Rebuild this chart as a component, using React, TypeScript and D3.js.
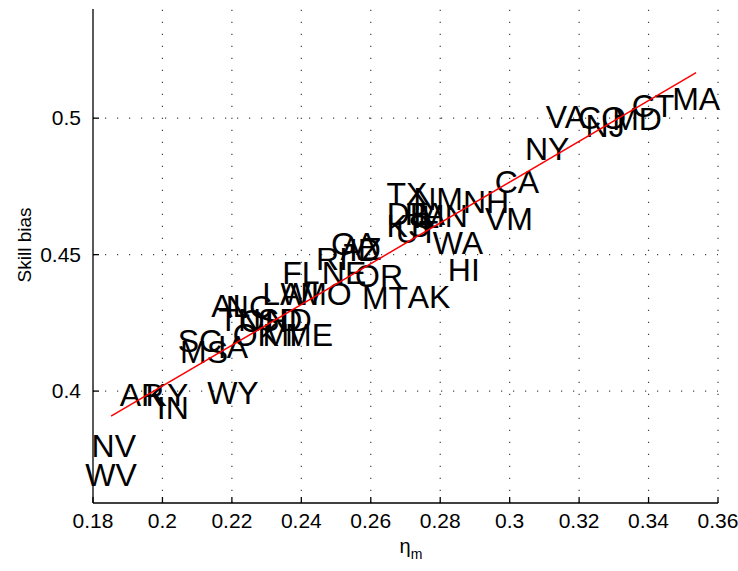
import React from "react";
import { scaleLinear, range, line } from "d3";

// state labels (text centred on the point)
const states = [
  "MA", "CT", "VA", "CO", "NJ", "MD", "NY", "CA", "NH", "VM",
  "TX", "NM", "DE", "PA", "MN", "IL", "KS", "UT", "WA", "HI",
  "AK", "MT", "OR", "GA", "AZ", "ID", "RI", "NE", "FL", "MO",
  "LA", "WI", "AL", "NC", "TN", "OH", "SD", "ND", "OK", "MI",
  "ME", "IA", "SC", "MS", "AR", "KY", "IN", "WY", "NV", "WV",
];
const eta = [
  0.3537, 0.3413, 0.3162, 0.3266, 0.3275, 0.3367, 0.3108, 0.3021, 0.2932, 0.2998,
  0.2704, 0.2794, 0.271, 0.2756, 0.2808, 0.2759, 0.2707, 0.2733, 0.2851, 0.2868,
  0.2768, 0.2641, 0.2624, 0.2552, 0.2572, 0.2583, 0.2488, 0.2523, 0.2399, 0.2471,
  0.2344, 0.2396, 0.2197, 0.2249, 0.2223, 0.2292, 0.2339, 0.2364, 0.2269, 0.2339,
  0.2422, 0.2203, 0.2108, 0.212, 0.1941, 0.2013, 0.203, 0.2203, 0.186, 0.1852,
];
const skillBias = [
  0.5073, 0.5048, 0.5007, 0.5004, 0.4974, 0.5, 0.489, 0.4769, 0.4696, 0.4634,
  0.4725, 0.4707, 0.4652, 0.4649, 0.4645, 0.4638, 0.4605, 0.4583, 0.4543, 0.4447,
  0.4345, 0.4341, 0.4422, 0.4539, 0.4524, 0.4517, 0.4484, 0.4433, 0.4433, 0.4356,
  0.4359, 0.4359, 0.4312, 0.4308, 0.4264, 0.4257, 0.4264, 0.4264, 0.4209, 0.4209,
  0.4209, 0.4162, 0.4184, 0.4144, 0.3986, 0.3986, 0.3939, 0.3993, 0.38, 0.3693,
];

// fitted line end points
const fitX = [0.1852, 0.3537];
const fitY = [0.3908, 0.5167];

const xTicks = range(0, 10).map((i) => +(0.18 + i * 0.02).toFixed(2));
const yTicks = [0.4, 0.45, 0.5];

const W = 738;
const H = 571;
const font = "'Liberation Sans', Arial, Helvetica, sans-serif";

export default function App() {
  const x = scaleLinear().domain([0.18, 0.36]).range([93, 718]);
  const y = scaleLinear().domain([0.359, 0.54]).range([503, 9]);
  const [x0, x1] = x.range();
  const [y0, y1] = y.range();

  const fit = line<number>()
    .x((d) => x(d))
    .y((_, i) => y(fitY[i]));

  const labelSize = 32;

  return (
    <svg
      width={W}
      height={H}
      style={{ position: "fixed", left: 0, top: 0, background: "#fff" }}
      fontFamily={font}
    >
      {/* grid */}
      <g stroke="#444" strokeWidth={1.2} strokeDasharray="1.2,10.8">
        {xTicks.slice(1).map((t) => (
          <line key={"gx" + t} x1={x(t)} x2={x(t)} y1={y0} y2={y1} />
        ))}
        {yTicks.map((t) => (
          <line key={"gy" + t} x1={x0} x2={x1} y1={y(t)} y2={y(t)} />
        ))}
      </g>

      {/* labels */}
      <g fontSize={labelSize} fill="#000" textAnchor="middle">
        {states.map((s, i) => (
          <text key={s} x={x(eta[i])} y={y(skillBias[i]) + labelSize * 0.358}>
            {s}
          </text>
        ))}
      </g>

      <path d={fit(fitX) ?? ""} stroke="#ff0000" strokeWidth={1.5} fill="none" />

      {/* axes */}
      <g stroke="#000" strokeWidth={1.3}>
        <line x1={x0} x2={x0} y1={y1} y2={y0} />
        <line x1={x0} x2={x1} y1={y0} y2={y0} />
        {xTicks.map((t) => (
          <line key={"tx" + t} x1={x(t)} x2={x(t)} y1={y0} y2={y0 - 6} />
        ))}
        {yTicks.map((t) => (
          <line key={"ty" + t} x1={x0} x2={x0 + 6} y1={y(t)} y2={y(t)} />
        ))}
      </g>

      <g fontSize={21} fill="#000">
        {xTicks.map((t) => (
          <text key={"lx" + t} x={x(t)} y={y0 + 25} textAnchor="middle">
            {String(t)}
          </text>
        ))}
        {yTicks.map((t) => (
          <text key={"ly" + t} x={x0 - 12} y={y(t) + 7} textAnchor="end">
            {String(t)}
          </text>
        ))}
      </g>

      <text
        transform={`translate(31,${(y0 + y1) / 2 - 11}) rotate(-90)`}
        textAnchor="middle"
        fontSize={19}
      >
        Skill bias
      </text>
      <text x={x((0.18 + 0.36) / 2) - 6} y={553} fontSize={20}>
        η<tspan fontSize={14} dy={6}>m</tspan>
      </text>
    </svg>
  );
}
